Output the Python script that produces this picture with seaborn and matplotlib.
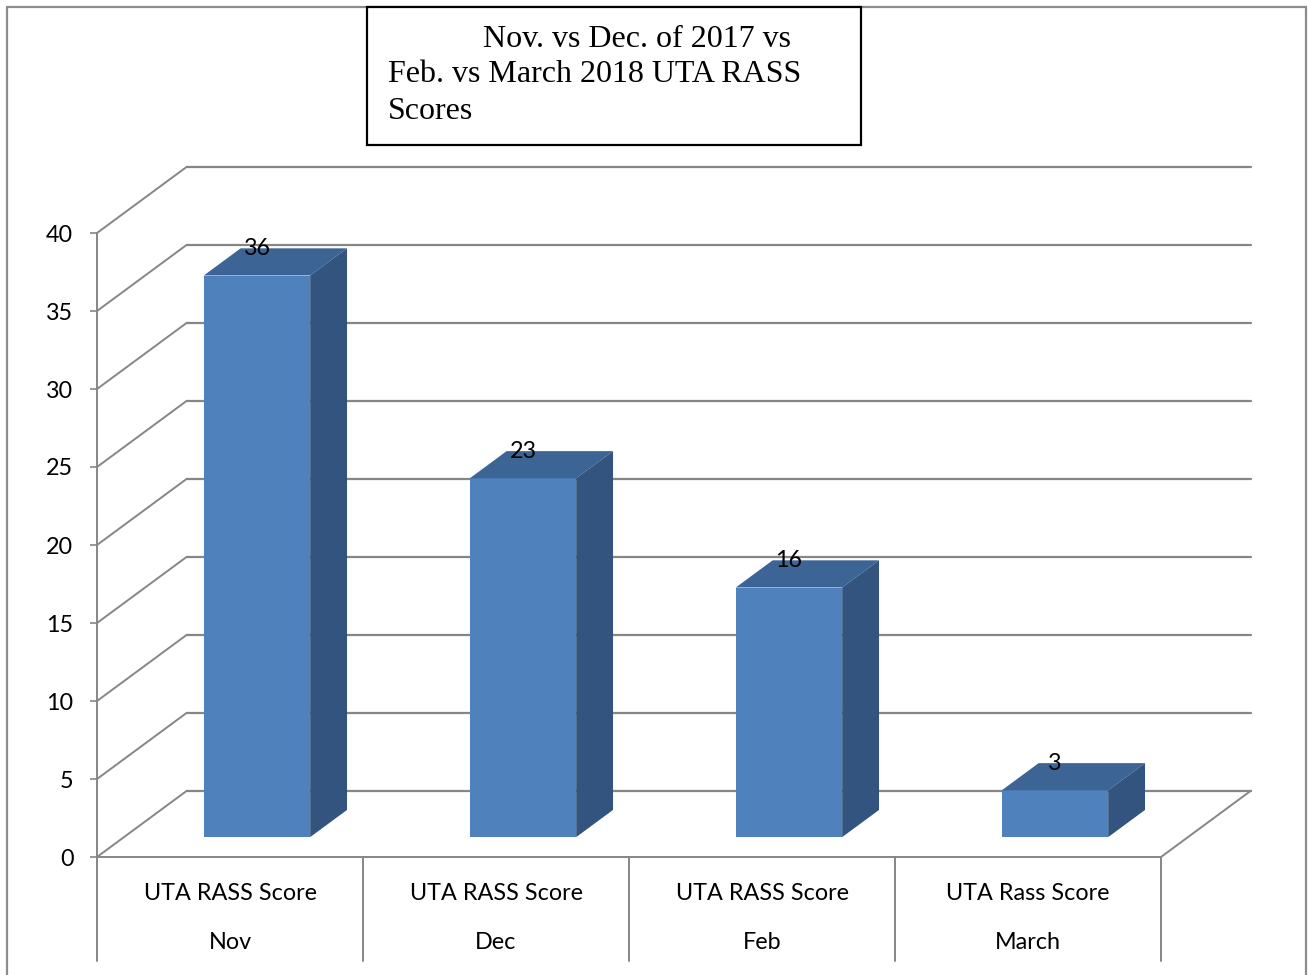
import numpy as np
import pandas as pd
import seaborn as sns
import matplotlib.pyplot as plt
from matplotlib.patches import Polygon, Rectangle
from matplotlib.lines import Line2D

# data
months = ["Nov", "Dec", "Feb", "March"]
score_names = ["UTA RASS Score", "UTA RASS Score", "UTA RASS Score", "UTA Rass Score"]
scores = [36, 23, 16, 3]
yticks = [0, 5, 10, 15, 20, 25, 30, 35, 40]
title_lines = ["Nov. vs Dec. of 2017 vs", "Feb. vs March 2018 UTA RASS", "Scores"]

FRONT = "#4F81BD"
TOP = "#3C6494"
SIDE = "#32547F"
GRID = "#868686"

# fake 3d depth (in data units) and where the bars sit in that depth
DX, DY = 0.338, 4.25
f0, f1 = 0.3, 0.71
bar_w = 0.4
fs = 16.8

sns.set_theme(style="white")
plt.rcParams["font.family"] = ["Lato", "DejaVu Sans"]
plt.rcParams["text.color"] = "black"

fig = plt.figure(figsize=(13.08, 9.75), dpi=100)
ax = fig.add_axes([97 / 1308, 118 / 975, 1064 / 1308, 624 / 975])

n = len(scores)
df = pd.DataFrame({"xpos": np.arange(n) + 0.5 + f0 * DX, "score": scores})
base = f0 * DY
sns.barplot(data=df, x="xpos", y="score", native_scale=True, width=bar_w,
            color=FRONT, saturation=1, errorbar=None, bottom=base,
            linewidth=0, ax=ax, zorder=3)

# back wall, left wall and floor
for v in yticks:
    ax.add_line(Line2D([DX, n + DX], [v + DY, v + DY], color=GRID, lw=1.6, zorder=1, clip_on=False))
    ax.add_line(Line2D([0, DX], [v, v + DY], color=GRID, lw=1.4, zorder=1, clip_on=False))
ax.add_line(Line2D([n, n + DX], [0, DY], color=GRID, lw=1.4, zorder=1, clip_on=False))

# category separators and two-level labels
ylow = -6.67
for i in range(n + 1):
    ax.add_line(Line2D([i, i], [0, ylow], color=GRID, lw=1.4, clip_on=False))
for i in range(n):
    ax.text(i + 0.5, -2.31, score_names[i], ha="center", va="center", fontsize=fs, clip_on=False)
    ax.text(i + 0.5, -5.51, months[i], ha="center", va="center", fontsize=fs, clip_on=False)

# side and top faces + value labels
ddx, ddy = (f1 - f0) * DX, (f1 - f0) * DY
for c, v in zip(df["xpos"], df["score"]):
    x0, x1 = c - bar_w / 2, c + bar_w / 2
    y0, y1 = base, base + v
    ax.add_patch(Polygon([(x0, y1), (x1, y1), (x1 + ddx, y1 + ddy), (x0 + ddx, y1 + ddy)],
                         closed=True, fc=TOP, ec="none", zorder=3, clip_on=False))
    ax.add_patch(Polygon([(x1, y0), (x1, y1), (x1 + ddx, y1 + ddy), (x1 + ddx, y0 + ddy)],
                         closed=True, fc=SIDE, ec="none", zorder=3, clip_on=False))
    ax.text(c, y1 + ddy, str(v), ha="center", va="center", fontsize=fs, zorder=5)

ax.set_xlim(0, n)
ax.set_ylim(0, 40)
ax.set_xticks([])
ax.set_yticks(yticks)
ax.set_xlabel("")
ax.set_ylabel("")
ax.tick_params(axis="y", left=True, direction="out", length=5, width=1.2, color=GRID,
               pad=12, labelsize=fs, labelcolor="black")
for s in ["top", "right"]:
    ax.spines[s].set_visible(False)
for s in ["left", "bottom"]:
    ax.spines[s].set_color(GRID)
    ax.spines[s].set_linewidth(1.4)
ax.patch.set_alpha(0)

# outer chart border
W, H = 1308, 975
fig.add_artist(Line2D([7 / W, 7 / W], [0, 1 - 7 / H], color="#8C8C8C", lw=1.6))
fig.add_artist(Line2D([7 / W, 1306 / W], [1 - 7 / H, 1 - 7 / H], color="#8C8C8C", lw=1.6))
fig.add_artist(Line2D([1306 / W, 1306 / W], [0, 1 - 7 / H], color="#8C8C8C", lw=1.6))

# title box
fig.add_artist(Rectangle((367 / W, 1 - 145 / H), 494 / W, 138 / H, fill=True, fc="white",
                         ec="black", lw=1.6, zorder=10))
title_x = [483, 388, 388]
title_base = [47, 82, 119]
for t, tx, ty in zip(title_lines, title_x, title_base):
    fig.text(tx / W, 1 - ty / H, t, ha="left", va="baseline", fontsize=23,
             family=["Liberation Serif", "DejaVu Serif"], zorder=11)

fig.savefig("out.png", dpi=100)
